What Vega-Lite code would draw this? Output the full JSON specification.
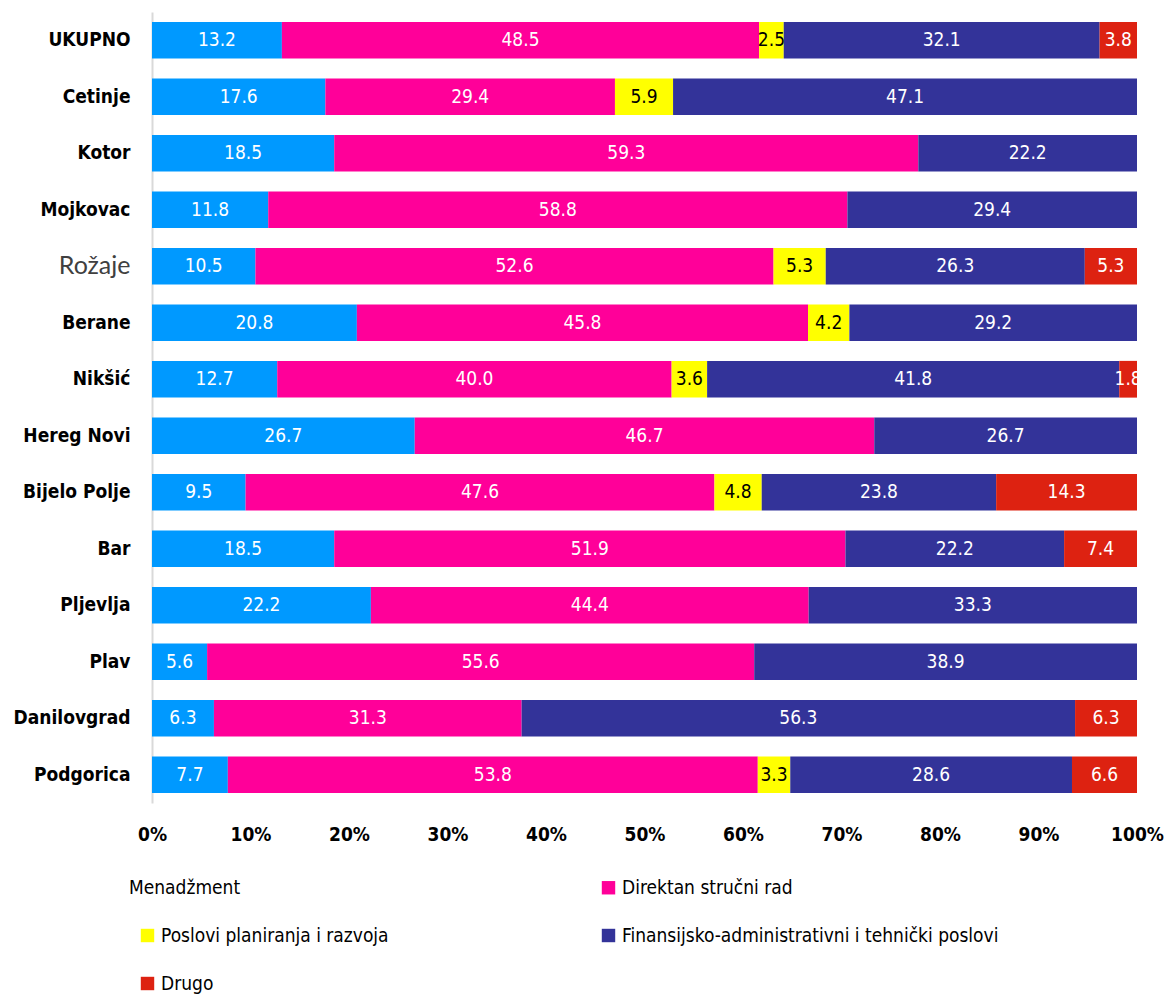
{
  "$schema": "https://vega.github.io/schema/vega-lite/v6.json",
  "autosize": {"type": "none"},
  "width": 985,
  "height": 791,
  "padding": {"left": 152, "top": 12, "right": 32, "bottom": 191},
  "background": "white",
  "config": {
    "view": {"stroke": null},
    "font": "DejaVu Sans Condensed, Roboto, sans-serif"
  },
  "data": {
    "values": [
      {"grad": "UKUPNO", "kat": "Menadžment", "v": 13.2},
      {"grad": "UKUPNO", "kat": "Direktan stručni rad", "v": 48.5},
      {"grad": "UKUPNO", "kat": "Poslovi planiranja i razvoja", "v": 2.5},
      {"grad": "UKUPNO", "kat": "Finansijsko-administrativni i tehnički poslovi", "v": 32.1},
      {"grad": "UKUPNO", "kat": "Drugo", "v": 3.8},
      {"grad": "Cetinje", "kat": "Menadžment", "v": 17.6},
      {"grad": "Cetinje", "kat": "Direktan stručni rad", "v": 29.4},
      {"grad": "Cetinje", "kat": "Poslovi planiranja i razvoja", "v": 5.9},
      {"grad": "Cetinje", "kat": "Finansijsko-administrativni i tehnički poslovi", "v": 47.1},
      {"grad": "Kotor", "kat": "Menadžment", "v": 18.5},
      {"grad": "Kotor", "kat": "Direktan stručni rad", "v": 59.3},
      {"grad": "Kotor", "kat": "Finansijsko-administrativni i tehnički poslovi", "v": 22.2},
      {"grad": "Mojkovac", "kat": "Menadžment", "v": 11.8},
      {"grad": "Mojkovac", "kat": "Direktan stručni rad", "v": 58.8},
      {"grad": "Mojkovac", "kat": "Finansijsko-administrativni i tehnički poslovi", "v": 29.4},
      {"grad": "Rožaje", "kat": "Menadžment", "v": 10.5},
      {"grad": "Rožaje", "kat": "Direktan stručni rad", "v": 52.6},
      {"grad": "Rožaje", "kat": "Poslovi planiranja i razvoja", "v": 5.3},
      {"grad": "Rožaje", "kat": "Finansijsko-administrativni i tehnički poslovi", "v": 26.3},
      {"grad": "Rožaje", "kat": "Drugo", "v": 5.3},
      {"grad": "Berane", "kat": "Menadžment", "v": 20.8},
      {"grad": "Berane", "kat": "Direktan stručni rad", "v": 45.8},
      {"grad": "Berane", "kat": "Poslovi planiranja i razvoja", "v": 4.2},
      {"grad": "Berane", "kat": "Finansijsko-administrativni i tehnički poslovi", "v": 29.2},
      {"grad": "Nikšić", "kat": "Menadžment", "v": 12.7},
      {"grad": "Nikšić", "kat": "Direktan stručni rad", "v": 40.0},
      {"grad": "Nikšić", "kat": "Poslovi planiranja i razvoja", "v": 3.6},
      {"grad": "Nikšić", "kat": "Finansijsko-administrativni i tehnički poslovi", "v": 41.8},
      {"grad": "Nikšić", "kat": "Drugo", "v": 1.8},
      {"grad": "Hereg Novi", "kat": "Menadžment", "v": 26.7},
      {"grad": "Hereg Novi", "kat": "Direktan stručni rad", "v": 46.7},
      {"grad": "Hereg Novi", "kat": "Finansijsko-administrativni i tehnički poslovi", "v": 26.7},
      {"grad": "Bijelo Polje", "kat": "Menadžment", "v": 9.5},
      {"grad": "Bijelo Polje", "kat": "Direktan stručni rad", "v": 47.6},
      {"grad": "Bijelo Polje", "kat": "Poslovi planiranja i razvoja", "v": 4.8},
      {"grad": "Bijelo Polje", "kat": "Finansijsko-administrativni i tehnički poslovi", "v": 23.8},
      {"grad": "Bijelo Polje", "kat": "Drugo", "v": 14.3},
      {"grad": "Bar", "kat": "Menadžment", "v": 18.5},
      {"grad": "Bar", "kat": "Direktan stručni rad", "v": 51.9},
      {"grad": "Bar", "kat": "Finansijsko-administrativni i tehnički poslovi", "v": 22.2},
      {"grad": "Bar", "kat": "Drugo", "v": 7.4},
      {"grad": "Pljevlja", "kat": "Menadžment", "v": 22.2},
      {"grad": "Pljevlja", "kat": "Direktan stručni rad", "v": 44.4},
      {"grad": "Pljevlja", "kat": "Finansijsko-administrativni i tehnički poslovi", "v": 33.3},
      {"grad": "Plav", "kat": "Menadžment", "v": 5.6},
      {"grad": "Plav", "kat": "Direktan stručni rad", "v": 55.6},
      {"grad": "Plav", "kat": "Finansijsko-administrativni i tehnički poslovi", "v": 38.9},
      {"grad": "Danilovgrad", "kat": "Menadžment", "v": 6.3},
      {"grad": "Danilovgrad", "kat": "Direktan stručni rad", "v": 31.3},
      {"grad": "Danilovgrad", "kat": "Finansijsko-administrativni i tehnički poslovi", "v": 56.3},
      {"grad": "Danilovgrad", "kat": "Drugo", "v": 6.3},
      {"grad": "Podgorica", "kat": "Menadžment", "v": 7.7},
      {"grad": "Podgorica", "kat": "Direktan stručni rad", "v": 53.8},
      {"grad": "Podgorica", "kat": "Poslovi planiranja i razvoja", "v": 3.3},
      {"grad": "Podgorica", "kat": "Finansijsko-administrativni i tehnički poslovi", "v": 28.6},
      {"grad": "Podgorica", "kat": "Drugo", "v": 6.6}
    ]
  },
  "transform": [
    {"calculate": "indexof(['Menadžment','Direktan stručni rad','Poslovi planiranja i razvoja','Finansijsko-administrativni i tehnički poslovi','Drugo'], datum.kat)", "as": "ord"},
    {"stack": "v", "groupby": ["grad"], "sort": [{"field": "ord", "order": "ascending"}], "offset": "normalize", "as": ["x0", "x1"]},
    {"calculate": "(datum.x0 + datum.x1) / 2", "as": "xm"}
  ],
  "encoding": {
    "y": {
      "field": "grad",
      "type": "nominal",
      "sort": ["UKUPNO", "Cetinje", "Kotor", "Mojkovac", "Rožaje", "Berane", "Nikšić", "Hereg Novi", "Bijelo Polje", "Bar", "Pljevlja", "Plav", "Danilovgrad", "Podgorica"],
      "scale": {"paddingInner": 0.35, "paddingOuter": 0.175},
      "axis": {
        "title": null,
        "ticks": false,
        "domain": true,
        "domainColor": "#D9D9D9",
        "domainWidth": 2,
        "labelPadding": 22,
        "labelFont": {"condition": {"test": "datum.value == 'Rožaje'", "value": "Lato"}, "value": "DejaVu Sans Condensed, Roboto, sans-serif"},
        "labelFontSize": {"condition": {"test": "datum.value == 'Rožaje'", "value": 25}, "value": 19},
        "labelFontWeight": {"condition": {"test": "datum.value == 'Rožaje'", "value": "normal"}, "value": "bold"},
        "labelColor": {"condition": {"test": "datum.value == 'Rožaje'", "value": "#404040"}, "value": "#000000"},
        "labelLimit": 200
      }
    }
  },
  "layer": [
    {
      "mark": {"type": "bar", "strokeWidth": 0},
      "encoding": {
        "x": {
          "field": "x0",
          "type": "quantitative",
          "scale": {"domain": [0, 1], "nice": false},
          "axis": {
            "title": null,
            "format": ".0%",
            "values": [0, 0.1, 0.2, 0.3, 0.4, 0.5, 0.6, 0.7, 0.8, 0.9, 1],
            "grid": false,
            "ticks": false,
            "domain": false,
            "labelPadding": 22,
            "labelFontSize": 19,
            "labelFontWeight": "bold",
            "labelColor": "#000000",
            "labelFont": "DejaVu Sans Condensed, Roboto, sans-serif",
            "labelFlush": false
          }
        },
        "x2": {"field": "x1"},
        "color": {
          "field": "kat",
          "type": "nominal",
          "sort": ["Menadžment", "Direktan stručni rad", "Poslovi planiranja i razvoja", "Finansijsko-administrativni i tehnički poslovi", "Drugo"],
          "scale": {
            "domain": ["Menadžment", "Direktan stručni rad", "Poslovi planiranja i razvoja", "Finansijsko-administrativni i tehnički poslovi", "Drugo"],
            "range": ["#0099FF", "#FF0099", "#FFFF00", "#333399", "#DD2211"]
          },
          "legend": {
            "title": null,
            "orient": "none",
            "legendX": -14,
            "legendY": 866,
            "direction": "horizontal",
            "columns": 2,
            "columnPadding": 210,
            "rowPadding": 28,
            "symbolType": "square",
            "symbolSize": 180,
            "symbolStrokeWidth": 0,
            "labelFontSize": 19,
            "labelFont": "DejaVu Sans Condensed, Roboto, sans-serif",
            "labelColor": "#000000",
            "labelLimit": 600,
            "labelOffset": 4,
            "encode": {
              "symbols": {"update": {"opacity": {"signal": "datum.label == 'Menadžment' ? 0 : 1"}}},
              "labels": {"update": {"dx": {"signal": "datum.label == 'Menadžment' ? -32 : 0"}}}
            }
          }
        }
      }
    },
    {
      "mark": {"type": "text", "fontSize": 19, "font": "DejaVu Sans Condensed, Roboto, sans-serif", "baseline": "middle", "align": "center"},
      "encoding": {
        "x": {"field": "xm", "type": "quantitative"},
        "text": {"field": "v", "type": "quantitative", "format": ".1f"},
        "color": {
          "condition": {"test": "datum.kat == 'Poslovi planiranja i razvoja'", "value": "#000000"},
          "value": "#FFFFFF"
        }
      }
    }
  ]
}
